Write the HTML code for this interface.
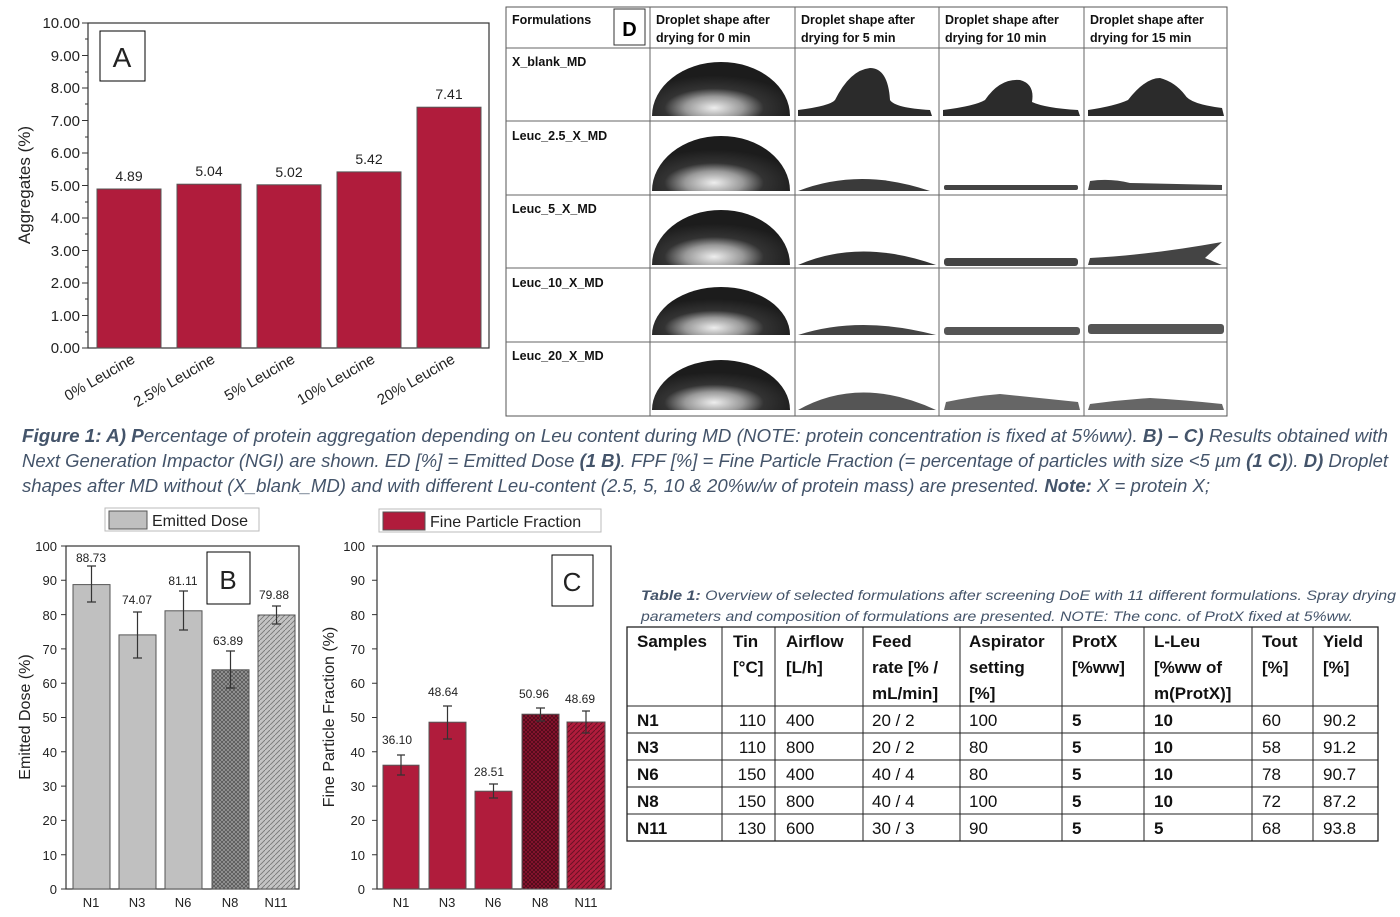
<!DOCTYPE html>
<html><head><meta charset="utf-8"><style>
body{margin:0;background:#fff}
svg{display:block}
text{font-family:"Liberation Sans",sans-serif}
</style></head><body>
<svg width="1400" height="917" viewBox="0 0 1400 917" xmlns="http://www.w3.org/2000/svg">
<defs>
<pattern id="xg" width="4" height="4" patternUnits="userSpaceOnUse"><rect width="4" height="4" fill="#9a9a9a"/><path d="M0 0L4 4M4 0L0 4" stroke="#555" stroke-width="0.8"/></pattern>
<pattern id="dg" width="5" height="5" patternUnits="userSpaceOnUse"><rect width="5" height="5" fill="#c4c4c4"/><path d="M0 5L5 0" stroke="#777" stroke-width="0.9"/></pattern>
<pattern id="xr" width="4" height="4" patternUnits="userSpaceOnUse"><rect width="4" height="4" fill="#8e1530"/><path d="M0 0L4 4M4 0L0 4" stroke="#4a0a18" stroke-width="0.8"/></pattern>
<pattern id="dr" width="5" height="5" patternUnits="userSpaceOnUse"><rect width="5" height="5" fill="#b01c3c"/><path d="M0 5L5 0" stroke="#6a1024" stroke-width="1"/></pattern>
<radialGradient id="dome" cx="0.45" cy="0.85" r="0.6"><stop offset="0" stop-color="#eee"/><stop offset="0.35" stop-color="#999"/><stop offset="0.6" stop-color="#333"/><stop offset="1" stop-color="#1c1c1c"/></radialGradient>
</defs>

<!-- ===== Chart A ===== -->
<g font-size="15" fill="#222">
<rect x="88" y="23" width="401" height="325" fill="none" stroke="#333" stroke-width="1.2"/>
<g text-anchor="end">
<text x="80" y="28">10.00</text><text x="80" y="61">9.00</text><text x="80" y="93">8.00</text><text x="80" y="126">7.00</text><text x="80" y="158">6.00</text><text x="80" y="191">5.00</text><text x="80" y="223">4.00</text><text x="80" y="256">3.00</text><text x="80" y="288">2.00</text><text x="80" y="321">1.00</text><text x="80" y="353">0.00</text>
</g>
<g stroke="#333">
<path d="M82 23H88M82 55.5H88M82 88H88M82 120.5H88M82 153H88M82 185.5H88M82 218H88M82 250.5H88M82 283H88M82 315.5H88M82 348H88"/>
<path d="M85 39H88M85 72H88M85 104H88M85 137H88M85 169H88M85 202H88M85 234H88M85 267H88M85 299H88M85 332H88"/>
</g>
<text transform="translate(30,185) rotate(-90)" text-anchor="middle" font-size="17">Aggregates (%)</text>
<g fill="#b01c3c" stroke="#555" stroke-width="1">
<rect x="97" y="189" width="64" height="159"/>
<rect x="177" y="184.2" width="64" height="163.8"/>
<rect x="257" y="184.8" width="64" height="163.2"/>
<rect x="337" y="171.9" width="64" height="176.1"/>
<rect x="417" y="107.2" width="64" height="240.8"/>
</g>
<g text-anchor="middle" font-size="14">
<text x="129" y="181">4.89</text><text x="209" y="176">5.04</text><text x="289" y="177">5.02</text><text x="369" y="164">5.42</text><text x="449" y="99">7.41</text>
</g>
<rect x="100" y="31" width="45" height="50" fill="#fff" stroke="#000"/>
<text x="122" y="67" text-anchor="middle" font-size="28">A</text>
<g text-anchor="end" font-size="15">
<text transform="translate(136,362) rotate(-30)">0% Leucine</text>
<text transform="translate(216,362) rotate(-30)">2.5% Leucine</text>
<text transform="translate(296,362) rotate(-30)">5% Leucine</text>
<text transform="translate(376,362) rotate(-30)">10% Leucine</text>
<text transform="translate(456,362) rotate(-30)">20% Leucine</text>
</g>
</g>

<!-- ===== Table D ===== -->
<g>
<rect x="506" y="7" width="721" height="409" fill="#fff" stroke="#555"/>
<g stroke="#666" stroke-width="1">
<path d="M650 7V416M795 7V416M939 7V416M1084 7V416"/>
<path d="M506 48H1227M506 121H1227M506 195H1227M506 268H1227M506 342H1227"/>
</g>
<g font-size="12.5" font-weight="bold" fill="#111">
<text x="512" y="24">Formulations</text>
<text x="656" y="24">Droplet shape after</text><text x="656" y="42">drying for 0 min</text>
<text x="801" y="24">Droplet shape after</text><text x="801" y="42">drying for 5 min</text>
<text x="945" y="24">Droplet shape after</text><text x="945" y="42">drying for 10 min</text>
<text x="1090" y="24">Droplet shape after</text><text x="1090" y="42">drying for 15 min</text>
<text x="512" y="66">X_blank_MD</text>
<text x="512" y="140">Leuc_2.5_X_MD</text>
<text x="512" y="213">Leuc_5_X_MD</text>
<text x="512" y="287">Leuc_10_X_MD</text>
<text x="512" y="360">Leuc_20_X_MD</text>
</g>
<rect x="614" y="9" width="31" height="36" fill="#fff" stroke="#333"/>
<text x="629.5" y="36" text-anchor="middle" font-size="20" font-weight="bold">D</text>
<!-- droplets column 0 -->
<g fill="url(#dome)">
<path d="M652 116 A69 54 0 0 1 790 116Z"/>
<path d="M652 191 A69 55 0 0 1 790 191Z"/>
<path d="M652 265 A69 55 0 0 1 790 265Z"/>
<path d="M652 335 A69 48 0 0 1 790 335Z"/>
<path d="M652 410 A69 50 0 0 1 790 410Z"/>
</g>
<g fill="#2b2b2b">
<!-- row0 -->
<path d="M798 116 L798 110 Q830 106 835 100 Q850 70 870 68 Q888 68 890 100 Q895 108 930 110 L932 116Z"/>
<path d="M943 116 L943 110 Q975 106 985 100 Q1000 78 1020 80 Q1035 84 1032 102 Q1045 108 1078 110 L1080 116Z"/>
<path d="M1088 116 L1088 110 Q1115 106 1128 100 Q1145 78 1160 78 Q1175 82 1185 95 Q1190 104 1222 108 L1224 116Z"/>
<!-- row1 -->
<path d="M798 191 Q860 167 930 191Z" fill="#3a3a3a"/>
<rect x="944" y="185" width="134" height="5" rx="2" fill="#444"/>
<path d="M1088 190 L1090 181 Q1110 178 1130 183 L1222 185 L1222 190Z" fill="#444"/>
<!-- row2 -->
<path d="M798 265 Q860 238 936 265Z" fill="#333"/>
<rect x="944" y="258" width="134" height="8" rx="3" fill="#444"/>
<path d="M1088 265 L1090 258 Q1150 255 1222 242 L1205 258 L1222 265Z" fill="#444"/>
<!-- row3 -->
<path d="M798 335 Q860 315 936 335Z" fill="#444"/>
<rect x="944" y="327" width="136" height="8" rx="3" fill="#555"/>
<rect x="1088" y="324" width="136" height="10" rx="3" fill="#555"/>
<!-- row4 -->
<path d="M798 410 Q860 375 936 410Z" fill="#555"/>
<path d="M944 410 L946 402 Q975 396 1000 394 Q1040 398 1078 402 L1080 410Z" fill="#666"/>
<path d="M1088 410 L1090 404 Q1120 400 1150 398 Q1185 400 1222 404 L1224 410Z" fill="#666"/>
</g>
</g>

<!-- ===== Caption ===== -->
<g font-size="18" font-style="italic" fill="#44546a">
<text x="22" y="442" textLength="1366" lengthAdjust="spacingAndGlyphs"><tspan font-weight="bold">Figure 1: A) P</tspan>ercentage of protein aggregation depending on Leu content during MD (NOTE: protein concentration is fixed at 5%ww). <tspan font-weight="bold">B) – C)</tspan> Results obtained with</text>
<text x="22" y="467" textLength="1366" lengthAdjust="spacingAndGlyphs">Next Generation Impactor (NGI) are shown. ED [%] = Emitted Dose <tspan font-weight="bold">(1 B)</tspan>. FPF [%] = Fine Particle Fraction (= percentage of particles with size &lt;5 µm <tspan font-weight="bold">(1 C)</tspan>). <tspan font-weight="bold">D)</tspan> Droplet</text>
<text x="22" y="492" textLength="1188" lengthAdjust="spacingAndGlyphs">shapes after MD without (X_blank_MD) and with different Leu-content (2.5, 5, 10 &amp; 20%w/w of protein mass) are presented.  <tspan font-weight="bold">Note:</tspan> X = protein X;</text>
</g>

<!-- ===== Chart B ===== -->
<g font-size="13" fill="#222">
<rect x="105" y="508" width="154" height="23" fill="#fff" stroke="#bbb"/>
<rect x="109" y="511" width="38" height="18" fill="#c0c0c0" stroke="#555"/>
<text x="152" y="526" font-size="16">Emitted Dose</text>
<rect x="66" y="546" width="233" height="343" fill="none" stroke="#333" stroke-width="1.2"/>
<g text-anchor="end">
<text x="57" y="551">100</text><text x="57" y="585">90</text><text x="57" y="620">80</text><text x="57" y="654">70</text><text x="57" y="688">60</text><text x="57" y="722">50</text><text x="57" y="757">40</text><text x="57" y="791">30</text><text x="57" y="825">20</text><text x="57" y="860">10</text><text x="57" y="894">0</text>
</g>
<g stroke="#333"><path d="M61 546H66M61 580.3H66M61 614.6H66M61 648.9H66M61 683.2H66M61 717.5H66M61 751.8H66M61 786.1H66M61 820.4H66M61 854.7H66M61 889H66"/></g>
<text transform="translate(30,717) rotate(-90)" text-anchor="middle" font-size="16">Emitted Dose (%)</text>
<g stroke="#555" stroke-width="1">
<rect x="73" y="584.6" width="37" height="304.4" fill="#c0c0c0"/>
<rect x="119" y="634.9" width="37" height="254.1" fill="#c0c0c0"/>
<rect x="165" y="610.8" width="37" height="278.2" fill="#c0c0c0"/>
<rect x="212" y="669.8" width="37" height="219.2" fill="url(#xg)"/>
<rect x="258" y="615" width="37" height="274" fill="url(#dg)"/>
</g>
<g stroke="#333" stroke-width="1.2">
<path d="M91.5 566V602M87 566H96M87 602H96"/>
<path d="M137.5 612V658M133 612H142M133 658H142"/>
<path d="M183.5 591V630M179 591H188M179 630H188"/>
<path d="M230.5 651V688M226 651H235M226 688H235"/>
<path d="M276.5 606V624M272 606H281M272 624H281"/>
</g>
<g text-anchor="middle" font-size="12">
<text x="91" y="562">88.73</text><text x="137" y="604">74.07</text><text x="183" y="585">81.11</text><text x="228" y="645">63.89</text><text x="274" y="599">79.88</text>
</g>
<rect x="207" y="552" width="43" height="52" fill="#fff" stroke="#000"/>
<text x="228" y="589" text-anchor="middle" font-size="26">B</text>
<g text-anchor="middle" font-size="13">
<text x="91" y="907">N1</text><text x="137" y="907">N3</text><text x="183" y="907">N6</text><text x="230" y="907">N8</text><text x="276" y="907">N11</text>
</g>
</g>

<!-- ===== Chart C ===== -->
<g font-size="13" fill="#222">
<rect x="379" y="509" width="222" height="23" fill="#fff" stroke="#bbb"/>
<rect x="383" y="512" width="42" height="18" fill="#b01c3c" stroke="#555"/>
<text x="430" y="527" font-size="16">Fine Particle Fraction</text>
<rect x="377" y="546" width="234" height="343" fill="none" stroke="#333" stroke-width="1.2"/>
<g text-anchor="end">
<text x="365" y="551">100</text><text x="365" y="585">90</text><text x="365" y="620">80</text><text x="365" y="654">70</text><text x="365" y="688">60</text><text x="365" y="722">50</text><text x="365" y="757">40</text><text x="365" y="791">30</text><text x="365" y="825">20</text><text x="365" y="860">10</text><text x="365" y="894">0</text>
</g>
<g stroke="#333"><path d="M372 546H377M372 580.3H377M372 614.6H377M372 648.9H377M372 683.2H377M372 717.5H377M372 751.8H377M372 786.1H377M372 820.4H377M372 854.7H377M372 889H377"/></g>
<text transform="translate(334,717) rotate(-90)" text-anchor="middle" font-size="16">Fine Particle Fraction (%)</text>
<g stroke="#555" stroke-width="1">
<rect x="383" y="765.2" width="36" height="123.8" fill="#b01c3c"/>
<rect x="429" y="722.2" width="37" height="166.8" fill="#b01c3c"/>
<rect x="475" y="791.2" width="37" height="97.8" fill="#b01c3c"/>
<rect x="522" y="714.2" width="37" height="174.8" fill="url(#xr)"/>
<rect x="567" y="722" width="38" height="167" fill="url(#dr)"/>
</g>
<g stroke="#333" stroke-width="1.2">
<path d="M401 755V775M397 755H405M397 775H405"/>
<path d="M447.5 706V739M443 706H452M443 739H452"/>
<path d="M493.5 784V798M489 784H498M489 798H498"/>
<path d="M540.5 708V721M536 708H545M536 721H545"/>
<path d="M586 711V733M582 711H590M582 733H590"/>
</g>
<g text-anchor="middle" font-size="12">
<text x="397" y="744">36.10</text><text x="443" y="696">48.64</text><text x="489" y="776">28.51</text><text x="534" y="698">50.96</text><text x="580" y="703">48.69</text>
</g>
<rect x="552" y="555" width="41" height="51" fill="#fff" stroke="#000"/>
<text x="572" y="591" text-anchor="middle" font-size="26">C</text>
<g text-anchor="middle" font-size="13">
<text x="401" y="907">N1</text><text x="447" y="907">N3</text><text x="493" y="907">N6</text><text x="540" y="907">N8</text><text x="586" y="907">N11</text>
</g>
</g>

<!-- ===== Table 1 ===== -->
<g font-size="14" font-style="italic" fill="#44546a">
<text x="641" y="600" textLength="755" lengthAdjust="spacingAndGlyphs"><tspan font-weight="bold">Table 1:</tspan> Overview of selected formulations after screening DoE with 11 different formulations. Spray drying</text>
<text x="641" y="621" textLength="712" lengthAdjust="spacingAndGlyphs">parameters and composition of formulations are presented. NOTE: The conc. of ProtX fixed at 5%ww.</text>
</g>
<g fill="#111">
<rect x="627" y="627" width="751" height="214" fill="none" stroke="#222" stroke-width="1.3"/>
<g stroke="#222" stroke-width="1">
<path d="M722 627V841M775 627V841M863 627V841M960 627V841M1062 627V841M1144 627V841M1252 627V841M1313 627V841"/>
<path d="M627 706H1378M627 733H1378M627 760H1378M627 787H1378M627 814H1378"/>
</g>
<g font-size="17" font-weight="bold">
<text x="637" y="647">Samples</text>
<text x="733" y="647">Tin</text><text x="733" y="673">[°C]</text>
<text x="786" y="647">Airflow</text><text x="786" y="673">[L/h]</text>
<text x="872" y="647">Feed</text><text x="872" y="673">rate [% /</text><text x="872" y="699">mL/min]</text>
<text x="969" y="647">Aspirator</text><text x="969" y="673">setting</text><text x="969" y="699">[%]</text>
<text x="1072" y="647">ProtX</text><text x="1072" y="673">[%ww]</text>
<text x="1154" y="647">L-Leu</text><text x="1154" y="673">[%ww  of</text><text x="1154" y="699">m(ProtX)]</text>
<text x="1262" y="647">Tout</text><text x="1262" y="673">[%]</text>
<text x="1323" y="647">Yield</text><text x="1323" y="673">[%]</text>
</g>
<g font-size="17">
<g font-weight="bold"><text x="637" y="726">N1</text><text x="637" y="753">N3</text><text x="637" y="780">N6</text><text x="637" y="807">N8</text><text x="637" y="834">N11</text></g>
<g text-anchor="end"><text x="766" y="726">110</text><text x="766" y="753">110</text><text x="766" y="780">150</text><text x="766" y="807">150</text><text x="766" y="834">130</text></g>
<text x="786" y="726">400</text><text x="786" y="753">800</text><text x="786" y="780">400</text><text x="786" y="807">800</text><text x="786" y="834">600</text>
<text x="872" y="726">20 / 2</text><text x="872" y="753">20 / 2</text><text x="872" y="780">40 / 4</text><text x="872" y="807">40 / 4</text><text x="872" y="834">30 / 3</text>
<text x="969" y="726">100</text><text x="969" y="753">80</text><text x="969" y="780">80</text><text x="969" y="807">100</text><text x="969" y="834">90</text>
<g font-weight="bold"><text x="1072" y="726">5</text><text x="1072" y="753">5</text><text x="1072" y="780">5</text><text x="1072" y="807">5</text><text x="1072" y="834">5</text>
<text x="1154" y="726">10</text><text x="1154" y="753">10</text><text x="1154" y="780">10</text><text x="1154" y="807">10</text><text x="1154" y="834">5</text></g>
<text x="1262" y="726">60</text><text x="1262" y="753">58</text><text x="1262" y="780">78</text><text x="1262" y="807">72</text><text x="1262" y="834">68</text>
<text x="1323" y="726">90.2</text><text x="1323" y="753">91.2</text><text x="1323" y="780">90.7</text><text x="1323" y="807">87.2</text><text x="1323" y="834">93.8</text>
</g>
</g>
</svg>
</body></html>
